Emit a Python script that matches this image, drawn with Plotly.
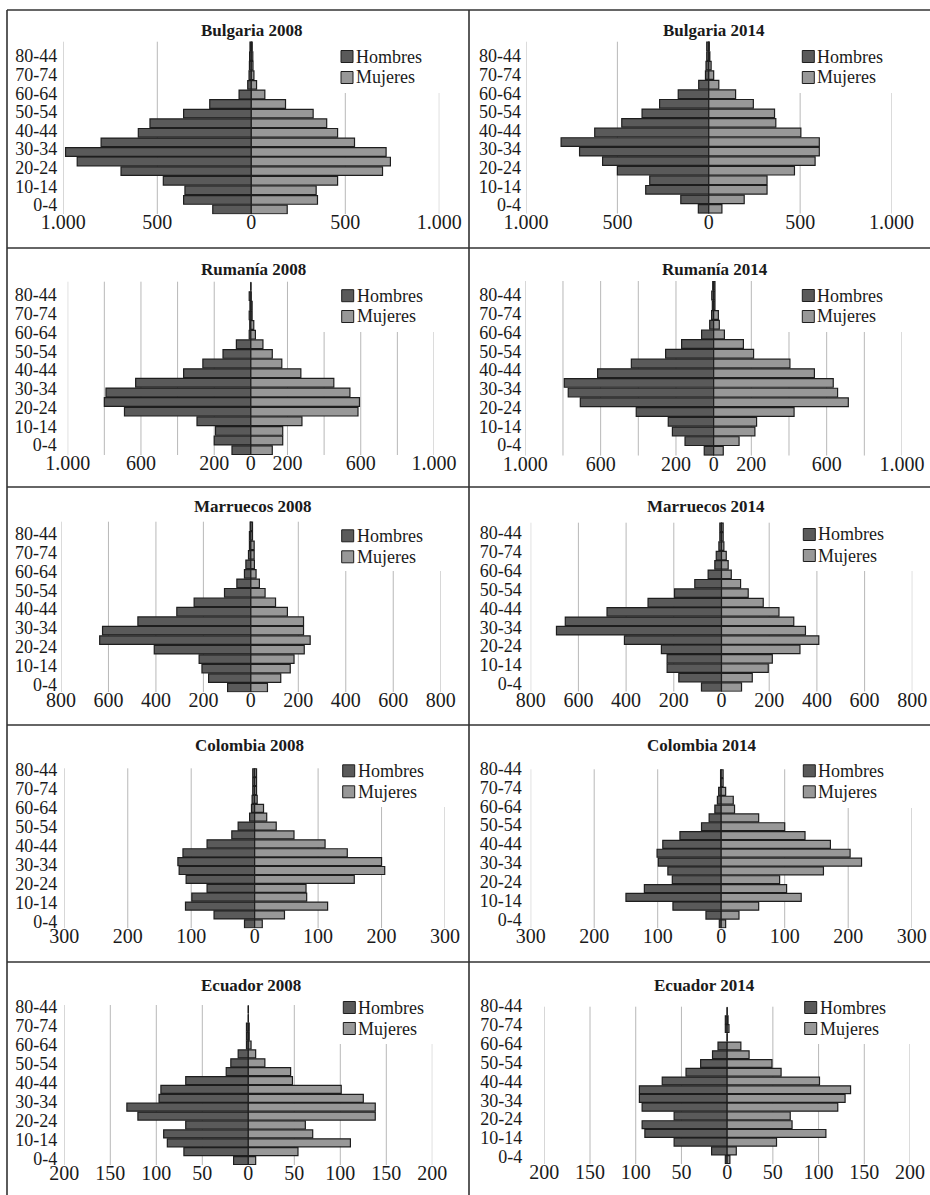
import plotly.graph_objects as go

W, H = 930, 1195
FONT = "Liberation Serif, 'Times New Roman', serif"
TXT = "#1a1a1a"
MEN_COLOR = "#5a5a5a"
WOMEN_COLOR = "#989898"
EDGE = "#1e1e1e"
GRID = "#b8b8b8"
FRAME = "#333333"

# ---------------- data ----------------
age_groups = ["0-4", "5-9", "10-14", "15-19", "20-24", "25-29", "30-34", "35-39", "40-44",
              "45-49", "50-54", "55-59", "60-64", "65-69", "70-74", "75-79", "80-84", "85+"]
age_tick_labels = ["0-4", "10-14", "20-24", "30-34", "40-44", "50-54", "60-64", "70-74", "80-44"]
legend_names = ["Hombres", "Mujeres"]

bulgaria_2008_hombres = [205, 360, 353, 468, 693, 926, 988, 799, 601, 539, 360, 221, 65, 19, 12, 10, 9, 7]
bulgaria_2008_mujeres = [191, 352, 345, 459, 698, 740, 717, 549, 459, 401, 329, 182, 72, 28, 14, 9, 8, 5]
bulgaria_2014_hombres = [57, 153, 345, 323, 500, 581, 707, 808, 624, 476, 365, 269, 167, 55, 18, 15, 11, 11]
bulgaria_2014_mujeres = [72, 194, 319, 319, 469, 582, 605, 605, 504, 367, 360, 244, 147, 55, 27, 13, 6, 3]

rumania_2008_hombres = [103, 200, 193, 294, 690, 800, 791, 629, 367, 262, 152, 79, 9, 6, 9, 5, 9, 0]
rumania_2008_mujeres = [117, 174, 174, 279, 585, 593, 541, 453, 273, 169, 117, 66, 25, 16, 7, 7, 2, 0]
rumania_2014_hombres = [50, 152, 219, 241, 411, 708, 772, 793, 616, 437, 255, 170, 64, 21, 11, 7, 10, 5]
rumania_2014_mujeres = [51, 135, 219, 228, 427, 715, 658, 635, 535, 405, 212, 158, 57, 30, 25, 7, 7, 7]

marruecos_2008_hombres = [98, 178, 206, 218, 407, 637, 625, 476, 312, 239, 111, 59, 27, 21, 10, 6, 6, 3]
marruecos_2008_mujeres = [70, 126, 166, 182, 225, 250, 222, 222, 154, 104, 60, 36, 22, 15, 14, 14, 7, 7]
marruecos_2014_hombres = [84, 179, 228, 228, 252, 407, 692, 655, 480, 308, 197, 112, 56, 28, 22, 11, 7, 7]
marruecos_2014_mujeres = [84, 129, 196, 213, 329, 408, 352, 303, 241, 175, 112, 80, 41, 28, 20, 10, 7, 7]

colombia_2008_hombres = [16, 64, 109, 99, 75, 108, 119, 121, 113, 75, 36, 26, 8, 5, 4, 3, 3, 3]
colombia_2008_mujeres = [12, 47, 115, 82, 81, 157, 205, 200, 146, 111, 62, 34, 19, 14, 4, 3, 3, 3]
colombia_2014_hombres = [3, 24, 76, 150, 121, 77, 84, 99, 101, 92, 65, 31, 19, 10, 6, 4, 1, 1]
colombia_2014_mujeres = [7, 28, 59, 126, 103, 92, 161, 221, 203, 172, 132, 100, 59, 21, 19, 7, 3, 3]

ecuador_2008_hombres = [16, 70, 88, 92, 68, 120, 132, 97, 95, 68, 24, 19, 11, 2, 2, 2, 0, 0]
ecuador_2008_mujeres = [8, 54, 111, 70, 62, 138, 138, 125, 101, 48, 46, 18, 8, 3, 1, 1, 0, 0]
ecuador_2014_hombres = [2, 17, 58, 90, 93, 58, 93, 96, 96, 71, 45, 29, 16, 10, 0, 2, 2, 0]
ecuador_2014_mujeres = [3, 10, 54, 108, 71, 69, 121, 129, 135, 101, 59, 49, 24, 15, 0, 2, 1, 0]

bulgaria_tickvals = [-1000, -500, 0, 500, 1000]
bulgaria_ticktext = ["1.000", "500", "0", "500", "1.000"]
rumania_tickvals = [-1000, -800, -600, -400, -200, 0, 200, 400, 600, 800, 1000]
rumania_ticktext = ["1.000", "", "600", "", "200", "0", "200", "", "600", "", "1.000"]
marruecos_tickvals = [-800, -600, -400, -200, 0, 200, 400, 600, 800]
marruecos_ticktext = ["800", "600", "400", "200", "0", "200", "400", "600", "800"]
colombia_tickvals = [-300, -200, -100, 0, 100, 200, 300]
colombia_ticktext = ["300", "200", "100", "0", "100", "200", "300"]
ecuador_tickvals = [-200, -150, -100, -50, 0, 50, 100, 150, 200]
ecuador_ticktext = ["200", "150", "100", "50", "0", "50", "100", "150", "200"]

# ---------------- panel layout (pixels) ----------------
panels = [
    dict(title="Bulgaria 2008", men=bulgaria_2008_hombres, women=bulgaria_2008_mujeres,
         tv=bulgaria_tickvals, tt=bulgaria_ticktext, box=(63.3, 439.3, 41.7, 214.3),
         ylab=(205, 56), lab_right=56.5, title_xy=(252, 31), leg=(341, 56.5, 77.5), mask=(400, 93)),
    dict(title="Bulgaria 2014", men=bulgaria_2014_hombres, women=bulgaria_2014_mujeres,
         tv=bulgaria_tickvals, tt=bulgaria_ticktext, box=(526, 891.5, 41.7, 213.7),
         ylab=(205, 56), lab_right=521, title_xy=(713.5, 31), leg=(802.3, 56.5, 77.5), mask=(400, 93)),
    dict(title="Rumanía 2008", men=rumania_2008_hombres, women=rumania_2008_mujeres,
         tv=rumania_tickvals, tt=rumania_ticktext, box=(67.7, 434, 281.7, 455),
         ylab=(445, 295), lab_right=56.5, title_xy=(253.5, 269), leg=(341.7, 295.7, 316.5), mask=(300, 332)),
    dict(title="Rumanía 2014", men=rumania_2014_hombres, women=rumania_2014_mujeres,
         tv=rumania_tickvals, tt=rumania_ticktext, box=(525.3, 902, 281, 455.7),
         ylab=(445, 295), lab_right=520.5, title_xy=(715, 269), leg=(802.3, 295.5, 316.5), mask=(300, 332)),
    dict(title="Marruecos 2008", men=marruecos_2008_hombres, women=marruecos_2008_mujeres,
         tv=marruecos_tickvals, tt=marruecos_ticktext, box=(61, 440.7, 521.7, 692.3),
         ylab=(685, 533.3), lab_right=56.5, title_xy=(253, 506), leg=(341.7, 535.8, 556.8), mask=(300, 571)),
    dict(title="Marruecos 2014", men=marruecos_2014_hombres, women=marruecos_2014_mujeres,
         tv=marruecos_tickvals, tt=marruecos_ticktext, box=(530.7, 912.3, 522.7, 691.7),
         ylab=(684, 532.7), lab_right=521, title_xy=(706, 506), leg=(803.3, 534.5, 555.5), mask=(300, 571)),
    dict(title="Colombia 2008", men=colombia_2008_hombres, women=colombia_2008_mujeres,
         tv=colombia_tickvals, tt=colombia_ticktext, box=(64.3, 445, 768.3, 928.3),
         ylab=(921.7, 770), lab_right=56.5, title_xy=(249, 745), leg=(342.7, 770.8, 791.8), mask=(150, 807)),
    dict(title="Colombia 2014", men=colombia_2014_hombres, women=colombia_2014_mujeres,
         tv=colombia_tickvals, tt=colombia_ticktext, box=(530.7, 911.7, 769.3, 928.3),
         ylab=(920, 768.3), lab_right=521, title_xy=(702, 745), leg=(803.3, 770.8, 791.8), mask=(150, 808)),
    dict(title="Ecuador 2008", men=ecuador_2008_hombres, women=ecuador_2008_mujeres,
         tv=ecuador_tickvals, tt=ecuador_ticktext, box=(64.3, 432.3, 1005, 1165),
         ylab=(1158.3, 1006.7), lab_right=56.5, title_xy=(250.5, 985), leg=(343.3, 1007.5, 1028.5), mask=(75, 1044)),
    dict(title="Ecuador 2014", men=ecuador_2014_hombres, women=ecuador_2014_mujeres,
         tv=ecuador_tickvals, tt=ecuador_ticktext, box=(544.3, 910, 1006.7, 1164),
         ylab=(1156.7, 1006), lab_right=521.5, title_xy=(704.5, 985), leg=(804.7, 1007.5, 1028.5), mask=(75, 1044)),
]

N = len(age_groups)
rows = list(range(N))

fig = go.Figure()
layout = dict(
    width=W, height=H, autosize=False,
    margin=dict(l=0, r=0, t=0, b=0, pad=0, autoexpand=False),
    paper_bgcolor="white", plot_bgcolor="rgba(0,0,0,0)",
    barmode="overlay", bargap=0.1, showlegend=False,
    font=dict(family=FONT, color=TXT),
)
shapes = []
annotations = []


def px_x(v):
    return v / W


def px_y(v):
    return 1 - v / H


for i, p in enumerate(panels):
    k = i + 1
    sfx = "" if k == 1 else str(k)
    xa, ya = "x" + sfx, "y" + sfx
    L, R, T, B = p["box"]
    row_h = (B - T) / N
    vmax = max(p["tv"])

    fig.add_trace(go.Bar(
        y=rows, x=[-v for v in p["men"]], orientation="h", name=legend_names[0],
        customdata=list(zip(age_groups, p["men"])),
        hovertemplate="%{customdata[0]}: %{customdata[1]}<extra>Hombres</extra>",
        marker=dict(color=MEN_COLOR, line=dict(color=EDGE, width=1.2)),
        xaxis=xa, yaxis=ya))
    fig.add_trace(go.Bar(
        y=rows, x=p["women"], orientation="h", name=legend_names[1],
        customdata=age_groups, hovertemplate="%{customdata}: %{x}<extra>Mujeres</extra>",
        marker=dict(color=WOMEN_COLOR, line=dict(color=EDGE, width=1.2)),
        xaxis=xa, yaxis=ya))

    # age labels form a text column with a fixed line spacing
    y_first, y_last = p["ylab"]
    nlab = len(age_tick_labels)
    lab_px = [y_first + (y_last - y_first) * j / (nlab - 1) for j in range(nlab)]
    tickpos = [-0.5 + (B - yp) / row_h for yp in lab_px]

    layout["xaxis" + sfx] = dict(
        domain=[px_x(L), px_x(R)], anchor=ya, range=[-vmax, vmax], automargin=False,
        tickmode="array", tickvals=p["tv"], ticktext=p["tt"],
        showgrid=False, zeroline=False, showline=False, ticks="",
        ticklabelstandoff=-6,
        tickfont=dict(family=FONT, size=20, color=TXT), fixedrange=True)
    # one spare row on top so the upper age label is never clipped
    layout["yaxis" + sfx] = dict(
        domain=[px_y(B), px_y(T - row_h)], anchor=xa, range=[-0.5, N + 0.5], automargin=False,
        tickmode="array", tickvals=tickpos, ticktext=age_tick_labels,
        showgrid=False, zeroline=False, showline=False, ticks="",
        ticklabelstandoff=int(round(L - p["lab_right"] - 1.5)),
        tickfont=dict(family=FONT, size=18, color=TXT), fixedrange=True)

    # vertical gridlines; those behind the legend stop below it
    mval, mbot = p["mask"]
    y_cut = -0.5 + (B - mbot) / row_h
    for v in p["tv"]:
        shapes.append(dict(
            type="line", layer="below", xref=xa, yref=ya,
            x0=v, x1=v, y0=-0.5, y1=(y_cut if v >= mval else N - 0.5),
            line=dict(color=GRID, width=1)))

    # legend (square swatch + label)
    sx, r1, r2 = p["leg"]
    for name, col, ry in [(legend_names[0], MEN_COLOR, r1), (legend_names[1], WOMEN_COLOR, r2)]:
        shapes.append(dict(
            type="rect", xref="paper", yref="paper", layer="above",
            x0=px_x(sx), x1=px_x(sx + 12), y0=px_y(ry + 6), y1=px_y(ry - 6),
            fillcolor=col, line=dict(color=EDGE, width=1)))
        annotations.append(dict(
            text=name, xref="paper", yref="paper", x=px_x(sx + 13), y=px_y(ry),
            xanchor="left", yanchor="middle", showarrow=False,
            font=dict(family=FONT, size=18, color=TXT)))

    cx, cy = p["title_xy"]
    annotations.append(dict(
        text="<b>" + p["title"] + "</b>", xref="paper", yref="paper",
        x=px_x(cx), y=px_y(cy), xanchor="center", yanchor="middle", showarrow=False,
        font=dict(family=FONT, size=17, color=TXT)))

# panel frame lines
for yy in [10, 248, 487, 725, 962]:
    shapes.append(dict(type="line", xref="paper", yref="paper", x0=px_x(7), x1=1,
                       y0=px_y(yy), y1=px_y(yy), line=dict(color=FRAME, width=1.6)))
for xx in [7, 469]:
    shapes.append(dict(type="line", xref="paper", yref="paper", x0=px_x(xx), x1=px_x(xx),
                       y0=0, y1=px_y(10), line=dict(color=FRAME, width=1.6)))

layout["shapes"] = shapes
layout["annotations"] = annotations
fig.update_layout(**layout)
fig.write_html("out.html", config={"displayModeBar": False},
               post_script="document.body.style.margin='0';")
